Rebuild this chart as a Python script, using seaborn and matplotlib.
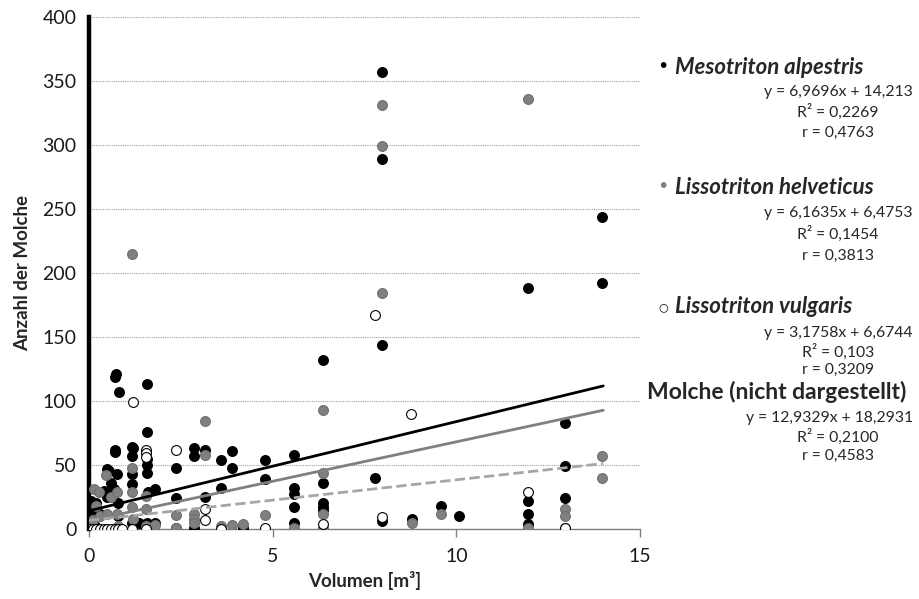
import matplotlib.pyplot as plt
import seaborn as sns
import numpy as np
import pandas as pd

# Mesotriton alpestris (black)
alp_x = [0.05, 0.05, 0.1, 0.15, 0.2, 0.3, 0.4, 0.48, 0.55, 0.5, 0.6, 0.68, 0.71, 0.73, 0.82,
         0.71, 0.71, 0.76, 0.8, 0.8, 1.18, 1.18, 1.18, 1.18, 1.18, 1.19, 1.36, 1.58, 1.58, 1.58,
         1.58, 1.58, 1.6, 1.58, 1.81, 1.81, 2.38, 2.38, 2.38, 2.85, 2.85, 2.85, 3.17, 3.17, 3.59,
         3.59, 3.89, 3.89, 4.2, 4.78, 4.78, 5.57, 5.57, 5.57, 5.57, 5.57, 6.36, 6.36, 6.36, 6.36,
         6.36, 7.79, 7.98, 7.98, 7.98, 7.98, 8.78, 9.58, 10.06, 11.96, 11.96, 11.96, 11.96, 12.96,
         12.96, 12.96, 13.96, 13.96]
alp_y = [22, 5, 15, 2, 20, 12, 30, 47, 45, 25, 36, 31, 119, 121, 107,
         62, 60, 43, 20, 10, 64, 57, 43, 35, 5, 63, 5, 113, 76, 55,
         50, 44, 29, 5, 31, 5, 48, 24.5, 1, 63, 57, 1, 62, 25, 54,
         32, 61, 48, 1, 54, 39, 58, 32, 27, 17, 5, 132, 36, 20, 17,
         15, 40, 357, 289, 144, 6, 8, 18, 10.4, 188, 22, 12, 4, 83,
         49, 24.5, 244, 192]

# Lissotriton helveticus (grey)
hel_x = [0.05, 0.1, 0.14, 0.27, 0.2, 0.3, 0.46, 0.5, 0.6, 0.76, 0.76, 0.8, 1.16, 1.18, 1.18,
         1.18, 1.2, 1.54, 1.54, 1.54, 1.8, 2.38, 2.38, 2.85, 2.85, 2.85, 3.17, 3.17, 3.59, 3.89,
         4.2, 4.78, 5.57, 6.36, 6.36, 6.36, 6.36, 7.98, 7.98, 7.98, 8.78, 9.58, 11.96, 11.96,
         12.96, 12.96, 12.96, 13.96, 13.96]
hel_y = [3, 7, 31, 29, 18, 10, 42, 12, 25, 29, 12, 2, 48, 29, 17,
         215, 8, 26, 16, 2, 3, 11, 1, 12, 8, 5, 58, 84, 2, 3,
         4, 11, 1, 93, 44, 12, 1, 331, 299, 184, 5, 12, 336, 1,
         15.6, 10.4, 1, 57, 40]

# Lissotriton vulgaris (open)
vul_x = [0.0, 0.1, 0.2, 0.3, 0.4, 0.5, 0.6, 0.7, 0.8, 0.9, 1.19, 1.18, 1.54, 1.54, 1.54, 1.54,
         2.38, 3.17, 3.17, 3.59, 4.78, 6.36, 7.79, 7.98, 8.77, 11.96, 12.96]
vul_y = [0, 0, 0, 0, 0, 0, 0, 0, 0, 0, 99, 0, 62, 59, 56, 0,
         62, 15.6, 7, 0, 1, 4, 167, 9.6, 90, 29, 1]

# trendlines (slope, intercept) as printed in the chart
alp_fit = (6.9696, 14.213)
hel_fit = (6.1635, 6.4753)
vul_fit = (3.1758, 6.6744)
fit_range = [0, 14]

species = ["Mesotriton alpestris", "Lissotriton helveticus", "Lissotriton vulgaris"]
equations = ["y = 6,9696x + 14,213", "y = 6,1635x + 6,4753", "y = 3,1758x + 6,6744",
             "y = 12,9329x + 18,2931"]
r2_labels = ["R² = 0,2269", "R² = 0,1454", "R² = 0,103", "R² = 0,2100"]
r_labels = ["r = 0,4763", "r = 0,3813", "r = 0,3209", "r = 0,4583"]

GREY = '#808080'

sns.set_theme(style="white")
plt.rcParams['font.family'] = ['Lato', 'DejaVu Sans']

fig = plt.figure(figsize=(9.2, 5.99), dpi=100)
ax = fig.add_axes([89 / 920, 1 - 529 / 599, 551 / 920, 512 / 599])

dots = dict(s=50, linewidth=0.8, ax=ax, legend=False, zorder=3)
sns.scatterplot(x=alp_x, y=alp_y, color='black', edgecolor='black', **dots)
sns.scatterplot(x=hel_x, y=hel_y, color=GREY, edgecolor='#6e6e6e', **dots)
sns.scatterplot(x=vul_x, y=vul_y, color='white', edgecolor='black', **dots)

xs = np.array(fit_range, dtype=float)
for (m, b), col, ls in zip([alp_fit, hel_fit, vul_fit],
                           ['black', GREY, '#a6a6a6'], ['-', '-', '--']):
    ln = pd.DataFrame({'x': xs, 'y': m * xs + b})
    sns.lineplot(data=ln, x='x', y='y', color=col, linestyle=ls, linewidth=2,
                 ax=ax, zorder=4)

ax.set_xlim(0, 15)
ax.set_ylim(0, 400)
ax.set_xticks([0, 5, 10, 15])
ax.set_yticks(np.arange(0, 401, 50))
ax.yaxis.grid(True, linestyle=(0, (1, 1)), color='#a0a0a0', linewidth=0.8)
ax.xaxis.grid(False)
ax.set_axisbelow(True)

for s in ['top', 'right']:
    ax.spines[s].set_visible(False)
ax.spines['left'].set_linewidth(3.2)
ax.spines['left'].set_color('black')
ax.spines['bottom'].set_linewidth(1)
ax.spines['bottom'].set_color('#808080')
ax.tick_params(axis='y', direction='out', length=5, width=2.5, color='black',
               labelsize=14, pad=4, labelcolor='#1a1a1a')
ax.tick_params(axis='x', direction='out', length=6, width=1, color='#808080',
               labelsize=14, pad=8, bottom=True, labelcolor='#1a1a1a')

ax.set_xlabel('Volumen [m³]', fontsize=13.5, fontweight='bold', labelpad=4)
ax.set_ylabel('Anzahl der Molche', fontsize=13.5, fontweight='bold', labelpad=8)

def px(x, y):
    return x / 920, 1 - y / 599

bullet_cols = ['black', GREY, 'black']
bullet_chars = ['•', '•', '○']
title_y = [67, 187, 307]
for i, name in enumerate(species):
    ch = bullet_chars[i]
    fig.text(*px(663, title_y[i]), ch, color=bullet_cols[i], ha='center', va='center',
             fontsize=14 if ch == '•' else 8, family='DejaVu Sans')
    fig.text(*px(675, title_y[i]), name, ha='left', va='center', fontsize=16,
             fontweight='bold', style='italic')

fig.text(*px(777, 392), 'Molche (nicht dargestellt)', ha='center', va='center',
         fontsize=16.5, fontweight='bold')

eq_y = [92, 213, 333, 418]
r2_y = [112, 234, 352, 437]
r_y = [133, 256, 370, 456]
for i in range(4):
    fig.text(*px(913, eq_y[i]), equations[i], ha='right', va='center', fontsize=11.3)
    fig.text(*px(838, r2_y[i]), r2_labels[i], ha='center', va='center', fontsize=11.3)
    fig.text(*px(838, r_y[i]), r_labels[i], ha='center', va='center', fontsize=11.3)

fig.savefig('out.png', dpi=100)
